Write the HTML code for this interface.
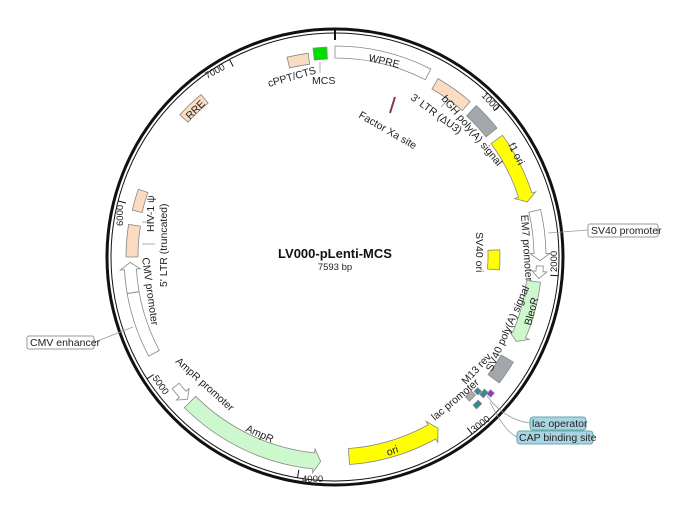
<!DOCTYPE html>
<html><head><meta charset="utf-8"><style>
html,body{margin:0;padding:0;background:#fff;}
svg{display:block;font-family:"Liberation Sans",sans-serif;}
text{font-size:10.5px;fill:#222;}
</style></head><body>
<svg id="s" width="685" height="510" viewBox="0 0 685 510" xmlns="http://www.w3.org/2000/svg">
<circle cx="335" cy="257" r="228" fill="none" stroke="#111" stroke-width="3"/>
<circle cx="335" cy="257" r="224" fill="none" stroke="#111" stroke-width="1"/>
<line x1="335" y1="28" x2="335" y2="40" stroke="#111" stroke-width="2"/>
<g id="shapes"></g>
<!-- callouts -->
<g stroke="#999" stroke-width="0.8" fill="none">
<line x1="548" y1="233" x2="588" y2="230"/>
<line x1="95" y1="342" x2="133" y2="327"/>
<path d="M487 396 Q505 420 530 423"/>
<path d="M490 402 Q505 432 517 437"/>
<line x1="320" y1="62" x2="320" y2="73"/>
<line x1="448" y1="100" x2="441" y2="107"/>
<line x1="151" y1="222" x2="142" y2="222"/>
<line x1="155" y1="244" x2="142" y2="244"/>
</g>
<rect x="588" y="224" width="70" height="13" rx="2" fill="#fff" stroke="#999"/>
<text x="591" y="234">SV40 promoter</text>
<rect x="27" y="336" width="67" height="13" rx="2" fill="#fff" stroke="#999"/>
<text x="30" y="346">CMV enhancer</text>
<rect x="530" y="417" width="56" height="13" rx="3" fill="#a9d4e3" stroke="#6aa"/>
<text x="532" y="427">lac operator</text>
<rect x="517" y="431" width="76" height="13" rx="3" fill="#a9d4e3" stroke="#6aa"/>
<text x="519" y="441">CAP binding site</text>
<!-- title -->
<text x="335" y="258" text-anchor="middle" style="font-size:13px;font-weight:bold;fill:#111">LV000-pLenti-MCS</text>
<text x="335" y="270" text-anchor="middle" style="font-size:9.5px">7593 bp</text>
<!-- tick labels -->
<text transform="translate(481,96) rotate(47)" style="font-size:9.5px">1000</text>
<text transform="translate(557,272) rotate(-90)" style="font-size:9.5px">2000</text>
<text transform="translate(474,433) rotate(-38)" style="font-size:9.5px">3000</text>
<text x="302" y="482" style="font-size:9.5px">4000</text>
<text transform="translate(152,378) rotate(55)" style="font-size:9.5px">5000</text>
<text transform="translate(123,226) rotate(-90)" style="font-size:9.5px">6000</text>
<text transform="translate(207,79) rotate(-28)" style="font-size:9.5px">7000</text>
<!-- feature labels -->
<text transform="translate(269,87) rotate(-16)">cPPT/CTS</text>
<text x="312" y="84">MCS</text>
<text transform="translate(368,61) rotate(13)">WPRE</text>
<text transform="translate(410,99) rotate(36)">3' LTR (ΔU3)</text>
<text transform="translate(441,99) rotate(50)">bGH poly(A) signal</text>
<text transform="translate(508,145) rotate(63)">f1 ori</text>
<text transform="translate(521,215) rotate(86)">EM7 promoter</text>
<text transform="translate(476,232) rotate(90)">SV40 ori</text>
<text transform="translate(531,326) rotate(-75)">BleoR</text>
<text transform="translate(492,372) rotate(-66)">SV40 poly(A) signal</text>
<text transform="translate(466,385) rotate(-47)">M13 rev</text>
<text transform="translate(435,421) rotate(-40)">lac promoter</text>
<text transform="translate(388,456) rotate(-20)">ori</text>
<text transform="translate(245,431) rotate(24)">AmpR</text>
<text transform="translate(175,362) rotate(42)">AmpR promoter</text>
<text transform="translate(142,258) rotate(82)">CMV promoter</text>
<text transform="translate(167,287) rotate(-90)">5' LTR (truncated)</text>
<text transform="translate(154,232) rotate(-90)">HIV-1 ψ</text>
<text transform="translate(190,120) rotate(-45)">RRE</text>
<text transform="translate(358,117) rotate(30)">Factor Xa site</text>
<line x1="390" y1="113" x2="395" y2="97" stroke="#835" stroke-width="2"/>
</svg>
<script>
var C=[335,257],g=document.getElementById('shapes');
function P(a,r){a=a*Math.PI/180;return (C[0]+r*Math.sin(a)).toFixed(1)+' '+(C[1]-r*Math.cos(a)).toFixed(1);}
function band(a1,a2,r,w,fill,dir,stroke){
 var ro=r+w/2,ri=r-w/2,d,h=7*180/Math.PI/r,ro2=r+w/2+4,ri2=r-w/2-4;
 if(dir===1){var b=a2-h;
  d='M'+P(a1,ro)+' A'+ro+' '+ro+' 0 0 1 '+P(b,ro)+' L'+P(b,ro2)+' L'+P(a2,r)+' L'+P(b,ri2)+' L'+P(b,ri)+' A'+ri+' '+ri+' 0 0 0 '+P(a1,ri)+' Z';}
 else if(dir===-1){var b=a1+h;
  d='M'+P(a2,ro)+' A'+ro+' '+ro+' 0 0 0 '+P(b,ro)+' L'+P(b,ro2)+' L'+P(a1,r)+' L'+P(b,ri2)+' L'+P(b,ri)+' A'+ri+' '+ri+' 0 0 1 '+P(a2,ri)+' Z';}
 else d='M'+P(a1,ro)+' A'+ro+' '+ro+' 0 0 1 '+P(a2,ro)+' L'+P(a2,ri)+' A'+ri+' '+ri+' 0 0 0 '+P(a1,ri)+' Z';
 var p=document.createElementNS('http://www.w3.org/2000/svg','path');
 p.setAttribute('d',d);p.setAttribute('fill',fill);p.setAttribute('stroke',stroke||'#888');p.setAttribute('stroke-width','0.8');g.appendChild(p);}
var pe='#fcdcc0',gr='#a3a6ab',y='#ffff00',gn='#cdf7cd';
band(-13.5,-7.5,200,11,pe);band(-6,-2.2,204,12,'#00dd00');band(0,27,205,12,'#fff');
band(30,41,200,12,pe);band(43,51.5,200,14,gr);band(54,74,200,14,y,1);
band(77,91,205,12,'#fff',1);band(92.5,96,205,7,'#fff',1);band(97,115,200,14,gn,1);
band(120.5,127.5,200,14,gr);band(130.5,132,207,5,'#9933cc');band(131.5,133.5,202,5,'#338899');
band(132.5,134,196,5,'#338899');band(134.5,137,194,6,'#aaa');band(135,137,205,5,'#338899');
band(149,176,200,16,y,-1);band(184,225,205,16,gn,-1);band(226,231,205,9,'#fff',-1);
band(242,268.5,205,12,'#fff',1);band(270,279,203,12,pe);band(283,289,203,10,pe);
band(312.5,320.5,205,11,pe);band(87.5,94.5,159,12,y);
[1000,2000,3000,4000,5000,6000,7000].forEach(function(b){var a=b/7593*360;
 var l=document.createElementNS('http://www.w3.org/2000/svg','path');
 l.setAttribute('d','M'+P(a,224)+' L'+P(a,216));l.setAttribute('stroke','#111');g.appendChild(l);});
var l=document.createElementNS('http://www.w3.org/2000/svg','path');
l.setAttribute('d','M'+P(260,211)+' L'+P(260,199));l.setAttribute('stroke','#888');g.appendChild(l);
</script>
</body></html>
